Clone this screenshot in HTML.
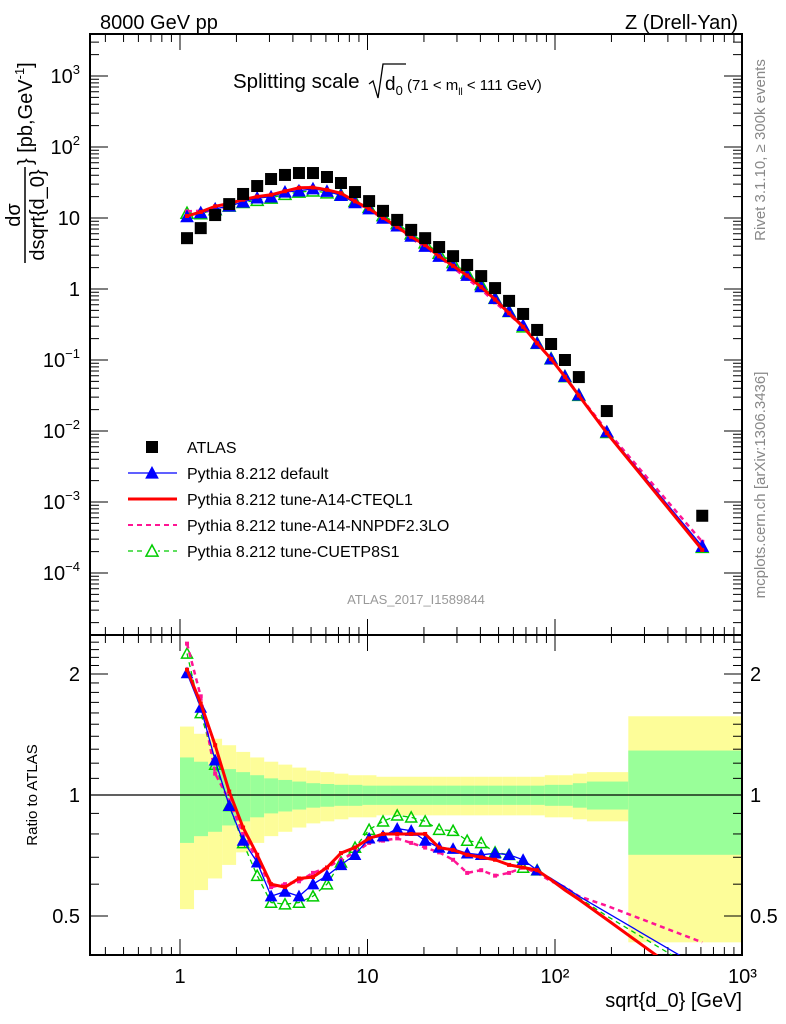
<!DOCTYPE html>
<html><head><meta charset="utf-8">
<style>
html,body{margin:0;padding:0;background:#fff;}
svg{display:block;font-family:"Liberation Sans",sans-serif;}
</style></head>
<body>
<svg id="chart" width="786" height="1024" viewBox="0 0 786 1024" xmlns="http://www.w3.org/2000/svg">
<g id="bands"></g>
<g id="axes"></g>
<g id="series"></g>
<text x="100" y="29" font-size="20">8000 GeV pp</text>
<text x="738" y="29" font-size="20" text-anchor="end">Z (Drell-Yan)</text>
<g>
<text x="233" y="88" font-size="20.5">Splitting scale</text>
<path d="M369,84 L373,81 L378,98 L383,64 L406,64" fill="none" stroke="#000" stroke-width="1.3"/>
<text x="385" y="90" font-size="19">d<tspan font-size="13" dy="5">0</tspan><tspan font-size="15" dy="-5"> (71 &lt; m</tspan><tspan font-size="10" dy="5">ll</tspan><tspan font-size="15" dy="-5"> &lt; 111 GeV)</tspan></text>
</g>
<text x="416" y="604" font-size="13" fill="#999" text-anchor="middle">ATLAS_2017_I1589844</text>
<text transform="translate(765,150) rotate(-90)" font-size="15" fill="#888" text-anchor="middle">Rivet 3.1.10, ≥ 300k events</text>
<text transform="translate(765,485) rotate(-90)" font-size="15" fill="#888" text-anchor="middle">mcplots.cern.ch [arXiv:1306.3436]</text>
<g transform="translate(0,215) rotate(-90)">
<text x="0" y="20" font-size="20" text-anchor="middle">dσ</text>
<line x1="-48" y1="25" x2="48" y2="25" stroke="#000" stroke-width="1.5"/>
<text x="0" y="44" font-size="20" text-anchor="middle">dsqrt{d_0}</text>
<text x="50" y="32" font-size="20">} [pb,GeV<tspan font-size="13" dy="-8">-1</tspan><tspan dy="8">]</tspan></text>
</g>
<text transform="translate(37,795) rotate(-90)" font-size="15" text-anchor="middle">Ratio to ATLAS</text>
<text x="742" y="1007" font-size="20" text-anchor="end">sqrt{d_0} [GeV]</text>
<g id="legend"></g>
</svg>
<script>
const xCenters=[1.09,1.29,1.54,1.83,2.17,2.58,3.06,3.63,4.31,5.12,6.08,7.22,8.58,10.2,12.1,14.4,17.1,20.3,24.1,28.6,34.0,40.4,47.9,56.9,67.6,80.3,95.3,113,134,189,610];
const binEdges=[1,1.188,1.411,1.677,1.992,2.367,2.812,3.341,3.969,4.715,5.601,6.654,7.906,9.392,11.16,13.26,15.75,18.71,22.23,26.41,31.37,37.27,44.28,52.61,62.5,74.25,88.22,104.8,124.5,147.9,246,1000];
const atlasValues=[5.2,7.2,11,15.7,21.8,28.2,35.4,40.4,43,43,37.8,31.1,23.2,17.3,12.6,9.4,6.8,5.2,3.9,2.9,2.18,1.52,1.03,0.68,0.445,0.265,0.168,0.1,0.0575,0.0191,0.00064];
const errYellow=[0.48,0.42,0.38,0.33,0.28,0.24,0.21,0.19,0.17,0.15,0.14,0.13,0.12,0.12,0.11,0.11,0.11,0.11,0.11,0.11,0.11,0.11,0.11,0.11,0.11,0.11,0.12,0.12,0.13,0.14,0.57];
const errGreen=[0.24,0.21,0.19,0.16,0.14,0.12,0.10,0.09,0.08,0.07,0.065,0.06,0.06,0.055,0.055,0.055,0.055,0.055,0.055,0.055,0.055,0.055,0.055,0.055,0.055,0.055,0.06,0.06,0.07,0.08,0.29];
const ratioDefault=[2.01,1.65,1.22,0.94,0.77,0.68,0.56,0.575,0.56,0.60,0.63,0.67,0.71,0.78,0.79,0.825,0.815,0.77,0.74,0.735,0.716,0.71,0.716,0.71,0.69,0.65,0.62,0.59,0.56,0.51,0.37];
const ratioCTEQ=[2.05,1.69,1.33,1.02,0.83,0.71,0.60,0.59,0.62,0.625,0.66,0.717,0.74,0.78,0.80,0.80,0.80,0.80,0.74,0.73,0.71,0.70,0.69,0.67,0.66,0.65,0.615,0.58,0.55,0.49,0.33];
const ratioNNPDF=[2.38,1.76,1.13,0.97,0.80,0.69,0.59,0.60,0.61,0.64,0.66,0.69,0.72,0.76,0.77,0.78,0.76,0.74,0.72,0.69,0.64,0.65,0.63,0.64,0.66,0.64,0.61,0.59,0.56,0.53,0.43];
const ratioCUETP=[2.25,1.60,1.19,0.94,0.76,0.63,0.54,0.535,0.54,0.56,0.60,0.68,0.74,0.82,0.86,0.89,0.88,0.86,0.82,0.815,0.77,0.76,0.72,0.71,0.66,0.65,0.62,0.585,0.555,0.50,0.36];
const mainYTicks=[3,2,1,0,-1,-2,-3,-4];
const xTickLabels=["1","10","10²","10³"];
const ratioTicks=[2,1,0.5];

const NS="http://www.w3.org/2000/svg";
const L=90,R=742,T=34,MB=635,RB=955;
const X=v=>180+187.5*Math.log10(v);
const Y=v=>76+71*(3-Math.log10(v));
const RY=r=>795-121*Math.log2(r);
function mk(tag,attrs,parent){const e=document.createElementNS(NS,tag);for(const k in attrs)e.setAttribute(k,attrs[k]);parent.appendChild(e);return e;}
const axes=document.getElementById('axes'),bands=document.getElementById('bands'),series=document.getElementById('series'),legend=document.getElementById('legend');

const defs=mk('defs',{},document.getElementById('chart'));
const cm=mk('clipPath',{id:'cm'},defs);mk('rect',{x:L,y:T,width:R-L,height:MB-T},cm);
const cr=mk('clipPath',{id:'cr'},defs);mk('rect',{x:L,y:MB,width:R-L,height:RB-MB},cr);
bands.setAttribute('clip-path','url(#cr)');

for(let i=0;i<xCenters.length;i++){
  const x0=X(binEdges[i]),x1=Math.min(X(binEdges[i+1]),R);
  const y=mk('rect',{x:x0,y:RY(1+errYellow[i]),width:x1-x0,height:RY(1-errYellow[i])-RY(1+errYellow[i]),fill:'#fdfd99'},bands);
  
  
  const g=mk('rect',{x:x0,y:RY(1+errGreen[i]),width:x1-x0,height:RY(1-errGreen[i])-RY(1+errGreen[i]),fill:'#99ff99'},bands);
  
  
}

let f=mk('rect',{x:L,y:T,width:R-L,height:MB-T,fill:'none',stroke:'#000','stroke-width':2},axes);


f=mk('rect',{x:L,y:MB,width:R-L,height:RB-MB,fill:'none',stroke:'#000','stroke-width':2},axes);


mk('line',{x1:L,x2:R,y1:RY(1),y2:RY(1),stroke:'#000','stroke-width':1.3},axes);

for(let d=-1;d<=3;d++){for(let m=1;m<10;m++){const v=m*Math.pow(10,d);const x=X(v);if(x<L+1||x>R)continue;const len=m==1?16:8;
  mk('line',{x1:x,x2:x,y1:T,y2:T+len,stroke:'#000'},axes);
  mk('line',{x1:x,x2:x,y1:MB,y2:MB-len,stroke:'#000'},axes);
  mk('line',{x1:x,x2:x,y1:MB,y2:MB+len,stroke:'#000'},axes);
  mk('line',{x1:x,x2:x,y1:RB,y2:RB-len,stroke:'#000'},axes);}}
xTickLabels.forEach((s,i)=>{const t=mk('text',{x:X(Math.pow(10,i)),y:983,'font-size':20,'text-anchor':'middle'},axes);t.textContent=s;
  
  });

for(let d=-5;d<=3;d++){for(let m=1;m<10;m++){const v=m*Math.pow(10,d);const y=Y(v);if(y<T||y>MB)continue;const len=m==1?18:9;
  mk('line',{x1:L,x2:L+len,y1:y,y2:y,stroke:'#000'},axes);
  mk('line',{x1:R,x2:R-len,y1:y,y2:y,stroke:'#000'},axes);}}
mainYTicks.forEach(p=>{const t=mk('text',{x:80,y:Y(Math.pow(10,p))+7,'font-size':20,'text-anchor':'end'},axes);
  if(p==1)t.textContent='10';else if(p==0)t.textContent='1';
  else{t.textContent='10';const s=mk('tspan',{dy:-9,'font-size':13},t);s.textContent=p<0?'−'+(-p):String(p);}
  
  });

for(let r=0.4;r<=2.5;r+=0.1){const y=RY(r);if(y<MB||y>RB)continue;const maj=Math.abs(r-1)<1e-6||Math.abs(r-2)<1e-6||Math.abs(r-0.5)<1e-6;const len=maj?18:9;
  mk('line',{x1:L,x2:L+len,y1:y,y2:y,stroke:'#000'},axes);mk('line',{x1:R,x2:R-len,y1:y,y2:y,stroke:'#000'},axes);}
ratioTicks.forEach(r=>{[[80,'end'],[750,'start']].forEach(([x,a])=>{const t=mk('text',{x:x,y:RY(r)+7,'font-size':20,'text-anchor':a},axes);t.textContent=String(r);
  
  });});

const defs2=[
 {name:'pythia-cuetp8s1',r:ratioCUETP,c:'#00cc00',w:1.3,dash:'5,4',m:'open'},
 {name:'pythia-a14-nnpdf',r:ratioNNPDF,c:'#ff1493',w:2.5,dash:'5,4',m:'none'},
 {name:'pythia-default',r:ratioDefault,c:'#0000ff',w:1.3,dash:null,m:'filled'},
 {name:'pythia-a14-cteql1',r:ratioCTEQ,c:'#ff0000',w:3,dash:null,m:'none'}];
function tri(g,x,y,c,kind,s){s=s||6;const p=`${x},${y-s} ${x-s},${y+s*0.85} ${x+s},${y+s*0.85}`;
  mk('polygon',{points:p,fill:kind=='filled'?c:'none',stroke:c,'stroke-width':kind=='filled'?1:1.5},g);}
defs2.forEach(s=>{
  const gm=mk('g',{'clip-path':'url(#cm)'},series);
  
  
  const gr=mk('g',{'clip-path':'url(#cr)'},series);
  
  
  const mp=xCenters.map((x,i)=>X(x)+','+Y(s.r[i]*atlasValues[i])).join(' ');
  const rp=xCenters.map((x,i)=>X(x)+','+RY(s.r[i])).join(' ');
  const a={fill:'none',stroke:s.c,'stroke-width':s.w};if(s.dash)a['stroke-dasharray']=s.dash;
  mk('polyline',Object.assign({points:mp},a),gm);mk('polyline',Object.assign({points:rp},a),gr);
  xCenters.forEach((x,i)=>{
    if(s.m!='none'){tri(gm,X(x),Y(s.r[i]*atlasValues[i]),s.c,s.m);if(i<=25)tri(gr,X(x),RY(s.r[i]),s.c,s.m,5.5);}
    else{mk('rect',{x:X(x)-2,y:Y(s.r[i]*atlasValues[i])-2,width:4,height:4,fill:s.c},gm);if(i<=25)mk('rect',{x:X(x)-2,y:RY(s.r[i])-2,width:4,height:4,fill:s.c},gr);}
  });
});
const ga=mk('g',{'clip-path':'url(#cm)'},series);


xCenters.forEach((x,i)=>{const r=mk('rect',{x:X(x)-6,y:Y(atlasValues[i])-6,width:12,height:12,fill:'#000'},ga);
  
  });

const entries=[['ATLAS','sq','#000',null],['Pythia 8.212 default','filled','#0000ff',null],['Pythia 8.212 tune-A14-CTEQL1','none','#ff0000',null],['Pythia 8.212 tune-A14-NNPDF2.3LO','none','#ff1493','5,4'],['Pythia 8.212 tune-CUETP8S1','open','#00cc00','5,4']];
entries.forEach((e,i)=>{const y=447+26*i;const g=mk('g',{},legend);
  
  
  if(e[1]=='sq')mk('rect',{x:146,y:y-6,width:12,height:12,fill:'#000'},g);
  else{const a={x1:128,x2:177,y1:y,y2:y,stroke:e[2],'stroke-width':i==2?3:(i==3?2:1.3)};if(e[3])a['stroke-dasharray']=e[3];mk('line',a,g);
    if(e[1]!='none'){if(e[1]=='open')mk('rect',{x:146,y:y-6,width:12,height:12,fill:'#fff'},g);tri(g,152,y,e[2],e[1]);}}
  const t=mk('text',{x:187,y:y+6,'font-size':16},g);t.textContent=e[0];});
</script>
</body></html>
